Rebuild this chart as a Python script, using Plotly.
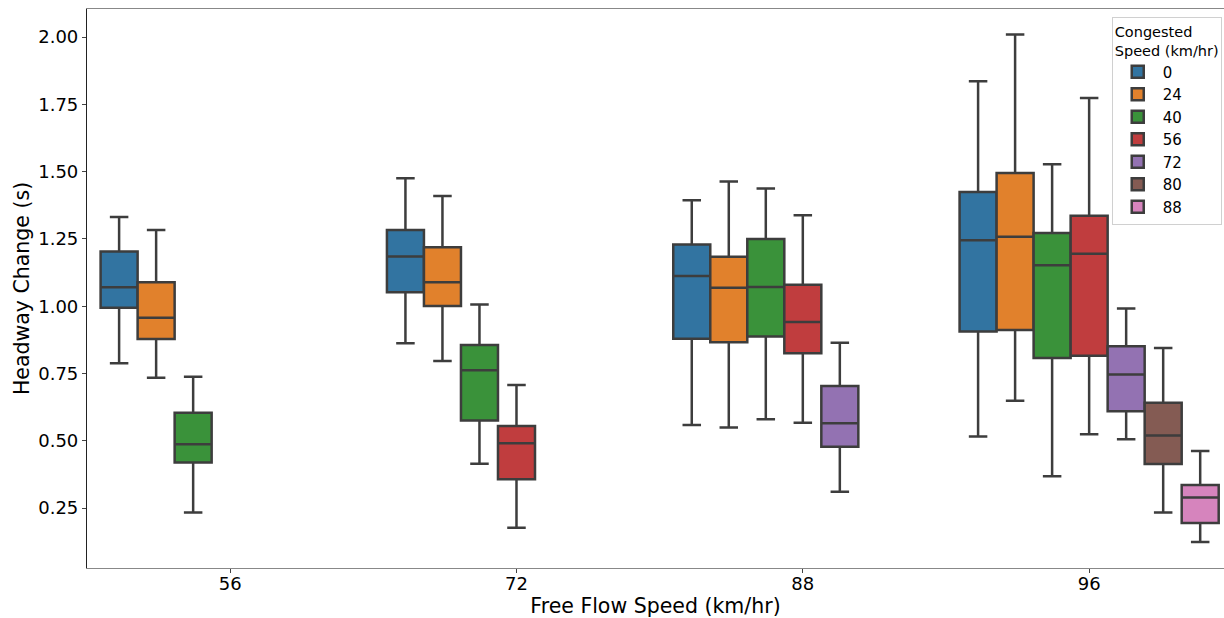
import plotly.graph_objects as go

# Free-flow speed groups on the x axis
free_flow = ["56", "72", "88", "96"]

# Congested speed levels (hue) and the free-flow groups each appears in
congested = ["0", "24", "40", "56", "72", "80", "88"]
groups = {
    "0":  ["56", "72", "88", "96"],
    "24": ["56", "72", "88", "96"],
    "40": ["56", "72", "88", "96"],
    "56": ["72", "88", "96"],
    "72": ["88", "96"],
    "80": ["96"],
    "88": ["96"],
}

# Box statistics per congested level (one value per group listed above)
lower = {
    "0":  [0.788, 0.862, 0.559, 0.516],
    "24": [0.734, 0.796, 0.549, 0.649],
    "40": [0.234, 0.415, 0.580, 0.368],
    "56": [0.177, 0.567, 0.524],
    "72": [0.311, 0.506],
    "80": [0.234],
    "88": [0.124],
}
q1 = {
    "0":  [0.994, 1.052, 0.879, 0.906],
    "24": [0.878, 1.001, 0.866, 0.912],
    "40": [0.419, 0.575, 0.887, 0.808],
    "56": [0.357, 0.825, 0.816],
    "72": [0.478, 0.610],
    "80": [0.414],
    "88": [0.195],
}
median = {
    "0":  [1.070, 1.185, 1.112, 1.245],
    "24": [0.957, 1.089, 1.069, 1.258],
    "40": [0.487, 0.762, 1.071, 1.152],
    "56": [0.491, 0.941, 1.195],
    "72": [0.565, 0.746],
    "80": [0.520],
    "88": [0.289],
}
q3 = {
    "0":  [1.203, 1.283, 1.229, 1.424],
    "24": [1.089, 1.219, 1.184, 1.495],
    "40": [0.604, 0.856, 1.250, 1.272],
    "56": [0.555, 1.080, 1.336],
    "72": [0.704, 0.851],
    "80": [0.641],
    "88": [0.336],
}
upper = {
    "0":  [1.331, 1.475, 1.394, 1.836],
    "24": [1.283, 1.409, 1.463, 2.009],
    "40": [0.738, 1.006, 1.437, 1.527],
    "56": [0.707, 1.338, 1.773],
    "72": [0.864, 0.991],
    "80": [0.845],
    "88": [0.462],
}

y_ticks = [0.25, 0.50, 0.75, 1.00, 1.25, 1.50, 1.75, 2.00]

colors = ["#3274a1", "#e1812c", "#3a923a", "#c03d3e",
          "#9372b2", "#845b53", "#d684bd"]
edge = "rgb(61,61,61)"
font = "DejaVu Sans"

fig = go.Figure()
for level, color in zip(congested, colors):
    fig.add_trace(go.Box(
        name=level,
        x=groups[level],
        q1=q1[level],
        median=median[level],
        q3=q3[level],
        lowerfence=lower[level],
        upperfence=upper[level],
        boxpoints=False,
        fillcolor=color,
        line=dict(color=edge, width=2.5),
        whiskerwidth=0.5,
        hoverinfo="skip",
    ))

fig.update_layout(
    width=1224,
    height=618,
    margin=dict(l=87, r=0, t=9, b=50),
    paper_bgcolor="white",
    plot_bgcolor="white",
    boxmode="group",
    boxgap=0.095,
    boxgroupgap=0,
    font=dict(family=font, color="black"),
    legend=dict(
        title=dict(text="Congested<br>Speed (km/hr)", font=dict(size=14.5, family=font)),
        font=dict(size=15, family=font),
        x=0.998, xanchor="right",
        y=0.986, yanchor="top",
        bgcolor="rgba(255,255,255,0.8)",
        bordercolor="#d0d0d0",
        borderwidth=1,
        itemwidth=40,
    ),
    xaxis=dict(
        type="category",
        categoryorder="array",
        categoryarray=free_flow,
        range=[-0.5, 3.471],
        title=dict(text="Free Flow Speed (km/hr)", font=dict(size=20.5, family=font), standoff=5),
        tickfont=dict(size=18, family=font),
        ticklabelstandoff=-5,
        ticks="outside", ticklen=4, tickcolor="#444",
        showline=True, linecolor="#888", linewidth=1.2, mirror=True,
        showgrid=False, zeroline=False,
    ),
    yaxis=dict(
        range=[0.0275, 2.104],
        tickvals=y_ticks,
        tickformat=".2f",
        title=dict(text="Headway Change (s)", font=dict(size=20.5, family=font), standoff=3),
        tickfont=dict(size=18, family=font),
        ticks="outside", ticklen=4, tickcolor="#444",
        showline=True, linecolor="#222", linewidth=1.2,
        showgrid=False, zeroline=False,
    ),
)

fig.write_html("out.html")
